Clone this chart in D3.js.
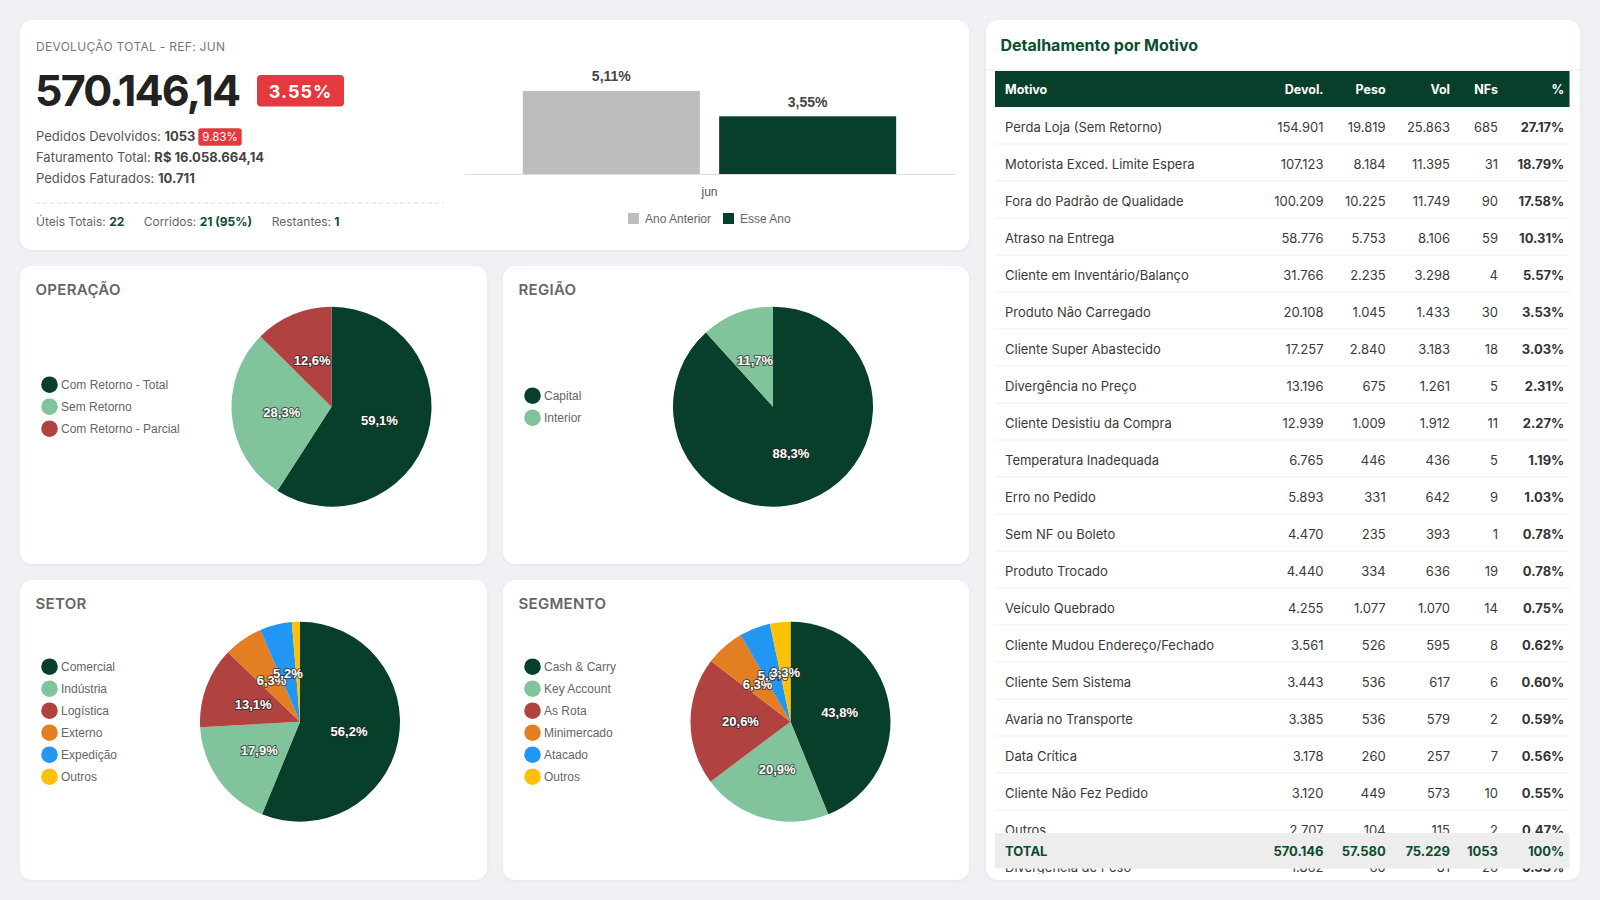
<!DOCTYPE html>
<html>
<head>
<meta charset="utf-8">
<script src="https://cdn.jsdelivr.net/npm/d3@7"></script>
<style>
body { margin: 0; width: 1600px; height: 900px; background: #eff1f5; font-family: Inter, sans-serif; overflow: hidden; }
.card { position: absolute; background: #fff; border-radius: 12px; box-shadow: 0 1px 4px rgba(0,0,0,0.05); }
.card svg { position: absolute; left: 0; top: 0; }
</style>
</head>
<body>
<script>
// resumo do mes
const refMes = 'JUN'
const devolucaoTotal = '570.146,14'
const pctDevolucao = '3.55%'
const pedidosDevolvidos = '1053'
const pctPedidos = '9.83%'
const faturamentoTotal = 'R$ 16.058.664,14'
const pedidosFaturados = '10.711'
const diasUteis = ['22', '21 (95%)', '1']

// comparativo ano anterior x esse ano
const meses = ['jun']
const serieNomes = ['Ano Anterior', 'Esse Ano']
const serieValores = [5.11, 3.55]
const serieCores = ['#bdbdbd', '#073f2a']

// pizzas
const operacaoNomes = ['Com Retorno - Total', 'Sem Retorno', 'Com Retorno - Parcial']
const operacaoValores = [59.1, 28.3, 12.6]
const regiaoNomes = ['Capital', 'Interior']
const regiaoValores = [88.3, 11.7]
const setorNomes = ['Comercial', 'Indústria', 'Logística', 'Externo', 'Expedição', 'Outros']
const setorValores = [56.2, 17.9, 13.1, 6.3, 5.2, 1.3]
const segmentoNomes = ['Cash & Carry', 'Key Account', 'As Rota', 'Minimercado', 'Atacado', 'Outros']
const segmentoValores = [43.8, 20.9, 20.6, 6.3, 5.0, 3.3]
const pieCores = ['#073f2a', '#81c39b', '#b0433f', '#e47e22', '#2196f3', '#ffc107']

// tabela por motivo
const motivos = ['Perda Loja (Sem Retorno)', 'Motorista Exced. Limite Espera', 'Fora do Padrão de Qualidade',
  'Atraso na Entrega', 'Cliente em Inventário/Balanço', 'Produto Não Carregado', 'Cliente Super Abastecido',
  'Divergência no Preço', 'Cliente Desistiu da Compra', 'Temperatura Inadequada', 'Erro no Pedido',
  'Sem NF ou Boleto', 'Produto Trocado', 'Veículo Quebrado', 'Cliente Mudou Endereço/Fechado',
  'Cliente Sem Sistema', 'Avaria no Transporte', 'Data Crítica', 'Cliente Não Fez Pedido', 'Outros',
  'Divergência de Peso']
const devol = [154901, 107123, 100209, 58776, 31766, 20108, 17257, 13196, 12939, 6765, 5893, 4470, 4440, 4255, 3561, 3443, 3385, 3178, 3120, 2707, 1862]
const peso = [19819, 8184, 10225, 5753, 2235, 1045, 2840, 675, 1009, 446, 331, 235, 334, 1077, 526, 536, 536, 260, 449, 104, 60]
const vol = [25863, 11395, 11749, 8106, 3298, 1433, 3183, 1261, 1912, 436, 642, 393, 636, 1070, 595, 617, 579, 257, 573, 115, 81]
const nfs = [685, 31, 90, 59, 4, 30, 18, 5, 11, 5, 9, 1, 19, 14, 8, 6, 2, 7, 10, 2, 26]
const pct = [27.17, 18.79, 17.58, 10.31, 5.57, 3.53, 3.03, 2.31, 2.27, 1.19, 1.03, 0.78, 0.78, 0.75, 0.62, 0.60, 0.59, 0.56, 0.55, 0.47, 0.33]
const totais = ['TOTAL', '570.146', '57.580', '75.229', '1053', '100%']

const green = '#0b4d2c'
const red = '#e5383f'
const chartFont = '"Liberation Sans", Arial, sans-serif'
const br = d3.formatLocale({ decimal: ',', thousands: '.', grouping: [3], currency: ['R$', ''] })
const fmtInt = br.format(',d')

function card(x, y, w, h) {
	const div = d3.select('body').append('div').attr('class', 'card')
		.style('left', x + 'px').style('top', y + 'px').style('width', w + 'px').style('height', h + 'px')
	return div.append('svg').attr('width', w).attr('height', h)
}

function mixedLine(svg, x, y, parts, size) {
	const t = svg.append('text').attr('x', x).attr('y', y).style('font-size', size + 'px')
	parts.forEach(p => {
		t.append('tspan').attr('fill', p.color).style('font-weight', p.bold ? 700 : 400).text(p.text)
	})
	return t
}

// ---------- cartao de resumo ----------
const topo = card(20, 20, 949, 230)

topo.append('text').attr('x', 16).attr('y', 31)
	.style('font-size', '12px').style('letter-spacing', '0.3px').attr('fill', '#777')
	.text('DEVOLUÇÃO TOTAL - REF: ' + refMes)

topo.append('text').attr('x', 15).attr('y', 86)
	.style('font-size', '43px').style('font-weight', 700).style('letter-spacing', '-1.8px').attr('fill', '#222')
	.text(devolucaoTotal)

topo.append('rect').attr('x', 237).attr('y', 55).attr('width', 87).attr('height', 31.5).attr('rx', 4).attr('fill', red)
topo.append('text').attr('x', 280.5).attr('y', 77.5).attr('text-anchor', 'middle')
	.style('font-size', '18px').style('font-weight', 700).style('letter-spacing', '1px').attr('fill', '#fff')
	.text(pctDevolucao)

mixedLine(topo, 16, 120.7, [{ text: 'Pedidos Devolvidos: ', color: '#555' }, { text: pedidosDevolvidos, color: '#444', bold: true }], 13)
topo.append('rect').attr('x', 178.3).attr('y', 108.3).attr('width', 43.4).attr('height', 17.4).attr('rx', 3).attr('fill', red)
topo.append('text').attr('x', 200).attr('y', 121.3).attr('text-anchor', 'middle')
	.style('font-size', '11.5px').attr('fill', '#fff').text(pctPedidos)
mixedLine(topo, 16, 141.8, [{ text: 'Faturamento Total: ', color: '#555' }, { text: faturamentoTotal, color: '#444', bold: true }], 13)
mixedLine(topo, 16, 162.8, [{ text: 'Pedidos Faturados: ', color: '#555' }, { text: pedidosFaturados, color: '#444', bold: true }], 13)

topo.append('line').attr('x1', 16).attr('x2', 424).attr('y1', 183).attr('y2', 183)
	.attr('stroke', '#ddd').attr('stroke-dasharray', '4,3')

const diasRotulos = ['Úteis Totais: ', 'Corridos: ', 'Restantes: ']
const diasX = [16, 123.7, 251.7]
diasRotulos.forEach((r, i) => {
	mixedLine(topo, diasX[i], 206, [{ text: r, color: '#666' }, { text: diasUteis[i], color: green, bold: true }], 12)
})

// grafico de barras
const x0 = d3.scaleBand().domain(meses).range([444, 935]).paddingInner(0).paddingOuter(0.1576)
const x1 = d3.scaleBand().domain(serieNomes).range([0, x0.bandwidth()]).paddingInner(0.0983)
const y = d3.scaleLinear().domain([0, 6]).range([154, 56.5])

const barras = topo.append('g').style('font-family', chartFont)
const grupo = barras.selectAll('g.grp').data(meses).enter().append('g')
	.attr('transform', d => `translate(${x0(d)},0)`)
grupo.selectAll('rect').data(serieNomes.map((s, i) => ({ s, v: serieValores[i], c: serieCores[i] })))
	.enter().append('rect')
	.attr('x', d => x1(d.s)).attr('width', x1.bandwidth())
	.attr('y', d => y(d.v)).attr('height', d => y(0) - y(d.v))
	.attr('fill', d => d.c)
grupo.selectAll('text').data(serieNomes.map((s, i) => ({ s, v: serieValores[i] })))
	.enter().append('text')
	.attr('x', d => x1(d.s) + x1.bandwidth() / 2).attr('y', d => y(d.v) - 9.5)
	.attr('text-anchor', 'middle').style('font-size', '14px').style('font-weight', 700).attr('fill', '#444')
	.text(d => d3.format('.2f')(d.v).replace('.', ',') + '%')

const eixo = barras.append('g').attr('transform', `translate(0,${y(0)})`)
	.call(d3.axisBottom(x0).tickSize(0).tickSizeOuter(0).tickPadding(13.5))
eixo.select('.domain').attr('stroke', '#ddd')
eixo.selectAll('text').style('font-family', chartFont).style('font-size', '12px').attr('fill', '#555')

const legX = [608, 703]
serieNomes.forEach((s, i) => {
	barras.append('rect').attr('x', legX[i]).attr('y', 193).attr('width', 11).attr('height', 11).attr('fill', serieCores[i])
	barras.append('text').attr('x', legX[i] + 17).attr('y', 202.5)
		.style('font-size', '12px').attr('fill', '#666').text(s)
})

// ---------- pizzas ----------
const arc = d3.arc().innerRadius(0).outerRadius(100)
const pie = d3.pie().sort(null).value(d => d)

function pieCard(x, yy, w, h, titulo, nomes, valores, cx, cy) {
	const svg = card(x, yy, w, h)
	svg.append('text').attr('x', 15.5).attr('y', 28.5)
		.style('font-size', '15px').style('font-weight', 600).style('letter-spacing', '0.3px').attr('fill', '#666')
		.text(titulo)

	const leg = svg.append('g').style('font-family', chartFont)
	nomes.forEach((n, i) => {
		const ly = cy + (i - (nomes.length - 1) / 2) * 22
		leg.append('circle').attr('cx', 29.5).attr('cy', ly).attr('r', 8.3).attr('fill', pieCores[i])
		leg.append('text').attr('x', 41).attr('y', ly + 4.3).style('font-size', '12px').attr('fill', '#666').text(n)
	})

	const g = svg.append('g').attr('transform', `translate(${cx},${cy})`)
	const fatias = pie(valores)
	g.selectAll('path').data(fatias).enter().append('path')
		.attr('d', arc).attr('fill', (d, i) => pieCores[i])
	g.selectAll('text').data(fatias.filter(d => d.data >= 2)).enter().append('text')
		.attr('transform', d => `translate(${arc.centroid(d)})`)
		.attr('text-anchor', 'middle').attr('dy', '0.35em')
		.style('font-family', chartFont).style('font-size', '13px').style('font-weight', 700)
		.attr('fill', '#fff').attr('stroke', 'rgba(40,40,40,0.7)').attr('stroke-width', 2.2)
		.style('paint-order', 'stroke').attr('stroke-linejoin', 'round')
		.text(d => d3.format('.1f')(d.data).replace('.', ',') + '%')
}

pieCard(20, 266, 467, 298, 'OPERAÇÃO', operacaoNomes, operacaoValores, 311.5, 140.7)
pieCard(503, 266, 466, 298, 'REGIÃO', regiaoNomes, regiaoValores, 270, 140.7)
pieCard(20, 580, 467, 300, 'SETOR', setorNomes, setorValores, 280, 141.7)
pieCard(503, 580, 466, 300, 'SEGMENTO', segmentoNomes, segmentoValores, 287.5, 141.7)

// ---------- tabela ----------
const tab = card(986, 20, 594, 860)
tab.append('text').attr('x', 14.5).attr('y', 30.8)
	.style('font-size', '16px').style('font-weight', 700).attr('fill', green)
	.text('Detalhamento por Motivo')
tab.append('line').attr('x1', 0).attr('x2', 594).attr('y1', 50).attr('y2', 50).attr('stroke', '#eee')

const colunas = ['Motivo', 'Devol.', 'Peso', 'Vol', 'NFs', '%']
const colX = [19, 337.5, 399.7, 464, 512, 578.3]
const rowH = 37
const rowTop = 87

tab.append('rect').attr('x', 9).attr('y', 51).attr('width', 574.5).attr('height', 36).attr('fill', '#073f2a')
tab.selectAll('text.hdr').data(colunas).enter().append('text').attr('class', 'hdr')
	.attr('x', (d, i) => colX[i]).attr('y', 73.5)
	.attr('text-anchor', (d, i) => i === 0 ? 'start' : 'end')
	.style('font-size', '12.5px').style('font-weight', 700).attr('fill', '#fff').text(d => d)

tab.append('clipPath').attr('id', 'corpo').append('rect')
	.attr('x', 0).attr('y', rowTop).attr('width', 594).attr('height', 853.5 - rowTop)
const corpo = tab.append('g').attr('clip-path', 'url(#corpo)')

const linhas = corpo.selectAll('g.row').data(motivos).enter().append('g')
	.attr('transform', (d, i) => `translate(0,${rowTop + i * rowH})`)
linhas.append('line').attr('x1', 9).attr('x2', 583.5).attr('y1', rowH).attr('y2', rowH).attr('stroke', '#eee')
linhas.each(function (m, i) {
	const cels = [m, fmtInt(devol[i]), fmtInt(peso[i]), fmtInt(vol[i]), String(nfs[i]), pct[i].toFixed(2) + '%']
	d3.select(this).selectAll('text').data(cels).enter().append('text')
		.attr('x', (d, j) => colX[j]).attr('y', rowH / 2 + 6)
		.attr('text-anchor', (d, j) => j === 0 ? 'start' : 'end')
		.style('font-size', '13px').style('font-weight', (d, j) => j === 5 ? 700 : 400)
		.attr('fill', (d, j) => j === 5 ? '#333' : '#3a3a3a').text(d => d)
})

corpo.append('rect').attr('x', 9).attr('y', 813).attr('width', 574.5).attr('height', 35.5).attr('fill', '#ededed')
corpo.selectAll('text.tot').data(totais).enter().append('text').attr('class', 'tot')
	.attr('x', (d, i) => colX[i]).attr('y', 835.5)
	.attr('text-anchor', (d, i) => i === 0 ? 'start' : 'end')
	.style('font-size', '13px').style('font-weight', 700).attr('fill', green).text(d => d)
</script>
</body>
</html>
